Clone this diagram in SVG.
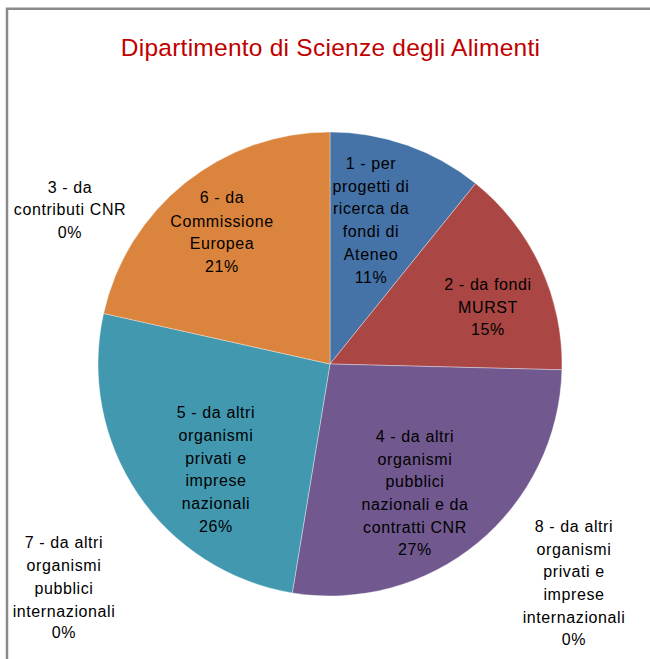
<svg xmlns="http://www.w3.org/2000/svg" width="650" height="659" viewBox="0 0 650 659">
<style>
  .bg { fill: #ffffff; }
  .frame { fill: none; stroke: #8a8a8a; stroke-width: 2.5; }
  .title { font-family: "Liberation Sans", Arial, sans-serif; font-size: 24.5px; fill: #C00000; text-anchor: middle; letter-spacing: 0.25px; }
  .lbl { font-family: "Liberation Sans", Arial, sans-serif; font-size: 16px; fill: #000000; text-anchor: middle; letter-spacing: 0.6px; }
  .slice { stroke: #ffffff; stroke-width: 0.6; stroke-opacity: 0.6; }
  .s1 { fill: #4572A7; }
  .s2 { fill: #AA4643; }
  .s4 { fill: #71588F; }
  .s5 { fill: #4198AF; }
  .s6 { fill: #DB843D; }
</style>
<rect class="bg" x="0" y="0" width="650" height="659"/>
<path class="frame" d="M7,659 V8.7 H650"/>
<text class="title" x="330.5" y="56">Dipartimento di Scienze degli Alimenti</text>

<g id="slice1">
  <path class="slice s1" d="M330,364 L330,132 A232,232 0 0 1 475.6,183.4 Z"/>
  <text class="lbl"><tspan x="371" y="169">1 - per</tspan><tspan x="371" y="192">progetti di</tspan><tspan x="371" y="214">ricerca da</tspan><tspan x="371" y="237">fondi di</tspan><tspan x="371" y="260">Ateneo</tspan><tspan x="371" y="283">11%</tspan></text>
</g>
<g id="slice2">
  <path class="slice s2" d="M330,364 L475.6,183.4 A232,232 0 0 1 561.9,369.8 Z"/>
  <text class="lbl"><tspan x="488" y="290">2 - da fondi</tspan><tspan x="488" y="313">MURST</tspan><tspan x="488" y="335">15%</tspan></text>
</g>
<g id="slice3">
  <text class="lbl"><tspan x="70" y="193">3 - da</tspan><tspan x="70" y="215">contributi CNR</tspan><tspan x="70" y="238">0%</tspan></text>
</g>
<g id="slice4">
  <path class="slice s4" d="M330,364 L561.9,369.8 A232,232 0 0 1 292.3,592.9 Z"/>
  <text class="lbl"><tspan x="415" y="442">4 - da altri</tspan><tspan x="415" y="465">organismi</tspan><tspan x="415" y="487">pubblici</tspan><tspan x="415" y="510">nazionali e da</tspan><tspan x="415" y="533">contratti CNR</tspan><tspan x="415" y="555">27%</tspan></text>
</g>
<g id="slice5">
  <path class="slice s5" d="M330,364 L292.3,592.9 A232,232 0 0 1 103.6,313.4 Z"/>
  <text class="lbl"><tspan x="216" y="418">5 - da altri</tspan><tspan x="216" y="441">organismi</tspan><tspan x="216" y="464">privati e</tspan><tspan x="216" y="486">imprese</tspan><tspan x="216" y="509">nazionali</tspan><tspan x="216" y="532">26%</tspan></text>
</g>
<g id="slice6">
  <path class="slice s6" d="M330,364 L103.6,313.4 A232,232 0 0 1 330,132 Z"/>
  <text class="lbl"><tspan x="222" y="203">6 - da</tspan><tspan x="222" y="227">Commissione</tspan><tspan x="222" y="249">Europea</tspan><tspan x="222" y="272">21%</tspan></text>
</g>
<g id="slice7">
  <text class="lbl"><tspan x="64" y="548">7 - da altri</tspan><tspan x="64" y="571">organismi</tspan><tspan x="64" y="594">pubblici</tspan><tspan x="64" y="617">internazionali</tspan><tspan x="64" y="638">0%</tspan></text>
</g>
<g id="slice8">
  <text class="lbl"><tspan x="574" y="532">8 - da altri</tspan><tspan x="574" y="555">organismi</tspan><tspan x="574" y="577">privati e</tspan><tspan x="574" y="600">imprese</tspan><tspan x="574" y="623">internazionali</tspan><tspan x="574" y="645">0%</tspan></text>
</g>
</svg>
